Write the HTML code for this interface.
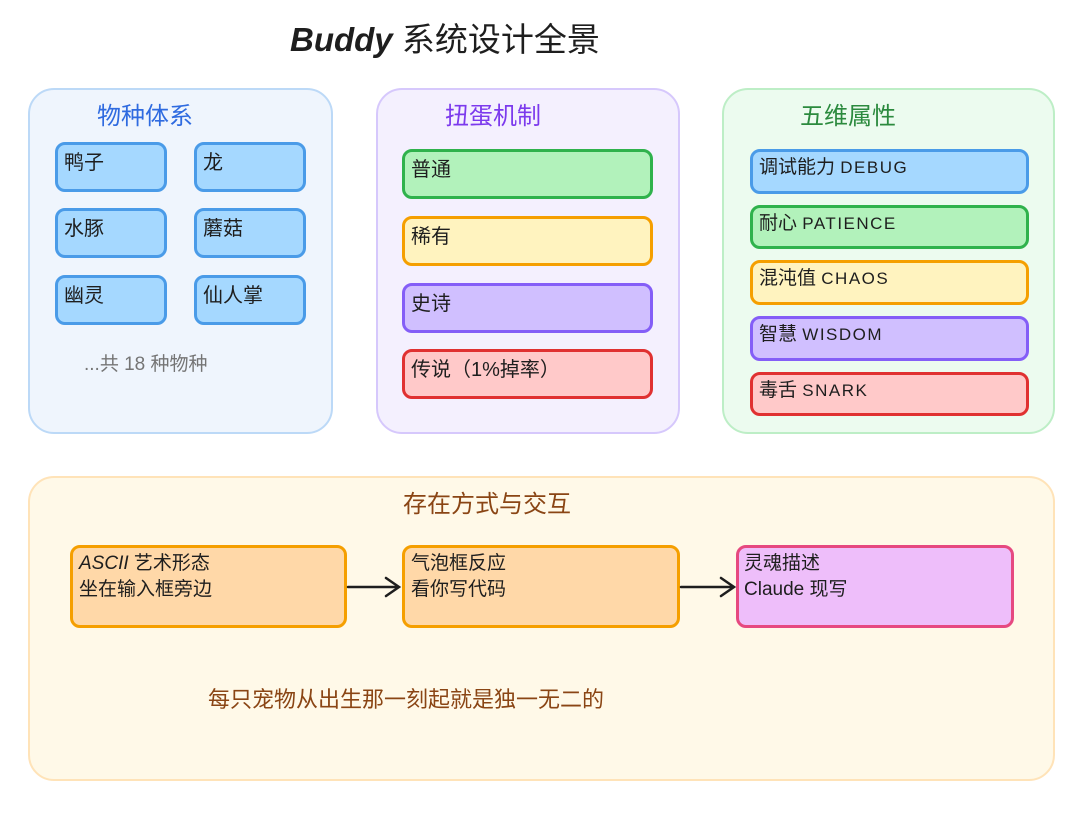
<!DOCTYPE html>
<html><head><meta charset="utf-8"><style>
body{margin:0;width:1080px;height:820px;background:#fff;position:relative;overflow:hidden;font-family:"Liberation Sans","Noto Sans CJK SC",sans-serif;color:#1e1e1e}
.a{position:absolute;box-sizing:border-box}
.p{border-radius:26px;border:2px solid}
.b{border-radius:10px;border:3px solid;font-size:20px;padding:5px 6px;line-height:26px}
.t{position:absolute;white-space:nowrap}
.l{letter-spacing:1.5px;font-size:17px}
</style></head><body>
<div class="t" style="left:290px;top:13px;font-size:33px"><b><i>Buddy</i></b> 系统设计全景</div>

<div class="a p" style="left:28px;top:88px;width:305px;height:346px;background:#eff5fd;border-color:#bcd9f7"></div>
<div class="t" style="left:97px;top:96px;font-size:24px;color:#2f6be0">物种体系</div>
<div class="a b" style="left:55px;top:142px;width:112px;height:50px;background:#a5d8ff;border-color:#4a9be8">鸭子</div>
<div class="a b" style="left:194px;top:142px;width:112px;height:50px;background:#a5d8ff;border-color:#4a9be8">龙</div>
<div class="a b" style="left:55px;top:208px;width:112px;height:50px;background:#a5d8ff;border-color:#4a9be8">水豚</div>
<div class="a b" style="left:194px;top:208px;width:112px;height:50px;background:#a5d8ff;border-color:#4a9be8">蘑菇</div>
<div class="a b" style="left:55px;top:275px;width:112px;height:50px;background:#a5d8ff;border-color:#4a9be8">幽灵</div>
<div class="a b" style="left:194px;top:275px;width:112px;height:50px;background:#a5d8ff;border-color:#4a9be8">仙人掌</div>
<div class="t" style="left:84px;top:349px;font-size:19px;color:#757575">...共 18 种物种</div>

<div class="a p" style="left:376px;top:88px;width:304px;height:346px;background:#f4f0fe;border-color:#d6c8fc"></div>
<div class="t" style="left:445px;top:96px;font-size:24px;color:#7c3aed">扭蛋机制</div>
<div class="a b" style="left:402px;top:149px;width:251px;height:50px;background:#b2f2bb;border-color:#2fb24c">普通</div>
<div class="a b" style="left:402px;top:216px;width:251px;height:50px;background:#fff3bf;border-color:#f59f00">稀有</div>
<div class="a b" style="left:402px;top:283px;width:251px;height:50px;background:#d0bfff;border-color:#845ef7">史诗</div>
<div class="a b" style="left:402px;top:349px;width:251px;height:50px;background:#ffc9c9;border-color:#e03131">传说（1%掉率）</div>

<div class="a p" style="left:722px;top:88px;width:333px;height:346px;background:#ecfbef;border-color:#bdeec6"></div>
<div class="t" style="left:800px;top:96px;font-size:24px;color:#2b8a3e">五维属性</div>
<div class="a b" style="left:750px;top:149px;width:279px;height:45px;background:#a5d8ff;border-color:#4a9be8;padding-top:3px;font-size:19px">调试能力 <span class="l">DEBUG</span></div>
<div class="a b" style="left:750px;top:205px;width:279px;height:44px;background:#b2f2bb;border-color:#2fb24c;padding-top:3px;font-size:19px">耐心 <span class="l">PATIENCE</span></div>
<div class="a b" style="left:750px;top:260px;width:279px;height:45px;background:#fff3bf;border-color:#f59f00;padding-top:3px;font-size:19px">混沌值 <span class="l">CHAOS</span></div>
<div class="a b" style="left:750px;top:316px;width:279px;height:45px;background:#d0bfff;border-color:#845ef7;padding-top:3px;font-size:19px">智慧 <span class="l">WISDOM</span></div>
<div class="a b" style="left:750px;top:372px;width:279px;height:44px;background:#ffc9c9;border-color:#e03131;padding-top:3px;font-size:19px">毒舌 <span class="l">SNARK</span></div>

<div class="a p" style="left:28px;top:476px;width:1027px;height:305px;background:#fff9e8;border-color:#ffe3b8"></div>
<div class="t" style="left:403px;top:484px;font-size:24px;color:#8a4514">存在方式与交互</div>
<div class="a b" style="left:70px;top:545px;width:277px;height:83px;background:#ffd8a8;border-color:#f59f00;padding:3px 6px;font-size:19px"><i>ASCII</i> 艺术形态<br>坐在输入框旁边</div>
<div class="a b" style="left:402px;top:545px;width:278px;height:83px;background:#ffd8a8;border-color:#f59f00;padding:3px 6px;font-size:19px">气泡框反应<br>看你写代码</div>
<div class="a b" style="left:736px;top:545px;width:278px;height:83px;background:#eebefa;border-color:#e64980;padding:3px 5px;font-size:19px">灵魂描述<br>Claude 现写</div>
<svg class="a" style="left:0;top:0" width="1080" height="820">
<g stroke="#1e1e1e" stroke-width="2.5" fill="none" stroke-linecap="round">
<path d="M348 587 L398 587 M386 578 L399 587 L386 596"/>
<path d="M681 587 L733 587 M721 578 L734 587 L721 596"/>
</g></svg>
<div class="t" style="left:208px;top:682px;font-size:22px;color:#8a4514">每只宠物从出生那一刻起就是独一无二的</div>
</body></html>
